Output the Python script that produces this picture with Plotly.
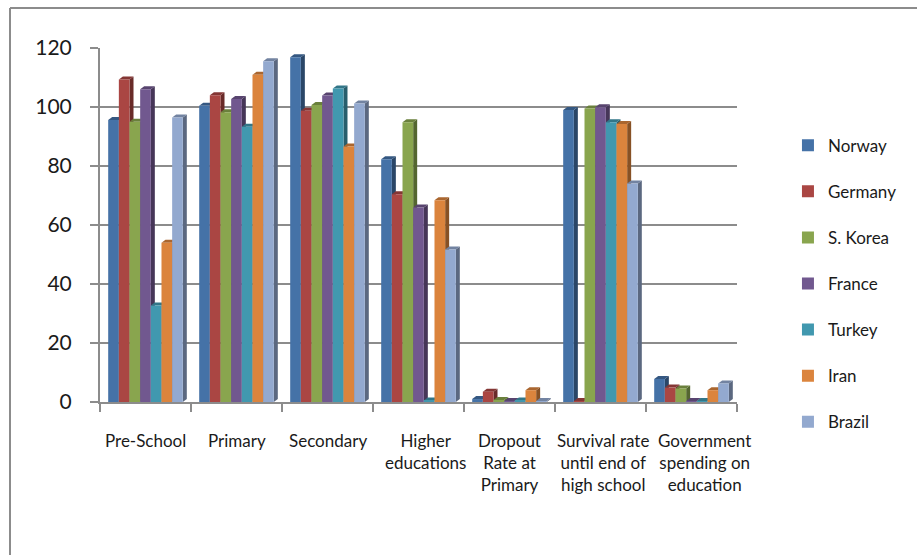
import plotly.graph_objects as go

categories = [
    "Pre-School", "Primary", "Secondary", "Higher<br>educations",
    "Dropout<br>Rate at<br>Primary", "Survival rate<br>until end of<br>high school",
    "Government<br>spending on<br>education",
]

norway = [95.6, 100.4, 116.9, 82.3, 1.0, 99.0, 7.8]
germany = [109.3, 104.0, 98.7, 70.4, 3.5, 0.3, 4.9]
s_korea = [95.0, 98.2, 100.7, 94.8, 0.7, 99.5, 4.6]
france = [106.0, 102.7, 103.9, 65.9, 0.3, 99.9, 0.3]
turkey = [32.7, 93.3, 106.3, 0.5, 0.5, 94.8, 0.3]
iran = [54.0, 110.9, 86.6, 68.4, 4.0, 94.2, 4.0]
brazil = [96.4, 115.5, 101.2, 51.7, 0.3, 74.1, 6.3]

series = [
    ("Norway", norway, "#4572A7"),
    ("Germany", germany, "#AA4643"),
    ("S. Korea", s_korea, "#89A54E"),
    ("France", france, "#71588F"),
    ("Turkey", turkey, "#4198AF"),
    ("Iran", iran, "#DB843D"),
    ("Brazil", brazil, "#93A9CF"),
]

y_ticks = [0, 20, 40, 60, 80, 100, 120]

W, H = 917, 555
L, R, T, B = 100, 180, 48, 153
BARGAP = 0.18
Y_MAX = 120

# horizontal nudges (px) for the category captions under the axis
label_shift = [0, 0, 0, 7, 0, 2, 13]


def shade(hex_color, k):
    r, g, b = (int(hex_color[i:i + 2], 16) for i in (1, 3, 5))
    return "#%02x%02x%02x" % (int(r * k), int(g * k), int(b * k))


fig = go.Figure()
for i, (name, vals, color) in enumerate(series):
    fig.add_trace(go.Bar(
        x=categories, y=vals, name=name,
        marker=dict(color=color, line=dict(width=0)),
        legendgroup=f"g{i}",
    ))

# depth faces (right side and top) for a simple 3-D look, in axis units
plot_w = W - L - R
plot_h = H - T - B
dx = 4 / (plot_w / len(categories))
dy = 3 / (plot_h / Y_MAX)
bar_w = (1 - BARGAP) / len(series)
for j, (name, vals, color) in enumerate(series):
    side = shade(color, 0.62)
    top = shade(color, 0.78)
    for i, v in enumerate(vals):
        x0 = i - (1 - BARGAP) / 2 + j * bar_w
        x1 = x0 + bar_w
        fig.add_shape(
            type="path", xref="x", yref="y", layer="between",
            path=f"M{x1},0 L{x1},{v} L{x1 + dx},{v + dy} L{x1 + dx},{dy} Z",
            fillcolor=side, line=dict(width=0),
        )
        fig.add_shape(
            type="path", xref="x", yref="y", layer="between",
            path=f"M{x0},{v} L{x1},{v} L{x1 + dx},{v + dy} L{x0 + dx},{v + dy} Z",
            fillcolor=top, line=dict(width=0),
        )

# category captions
for cat, shift in zip(categories, label_shift):
    fig.add_annotation(
        x=cat, xref="x", y=-26 / plot_h, yref="paper",
        xanchor="center", yanchor="top", xshift=shift,
        text=cat, showarrow=False, align="center",
        font=dict(size=17, family="Lato, Carlito, sans-serif", color="#1a1a1a"),
    )

fig.update_layout(
    width=W, height=H,
    margin=dict(l=L, r=R, t=T, b=B, pad=0),
    paper_bgcolor="white", plot_bgcolor="white",
    barmode="group", bargap=BARGAP, bargroupgap=0,
    font=dict(family="Lato, Carlito, sans-serif", color="#1a1a1a"),
    legend=dict(
        x=1.08, y=0.775, xanchor="left", yanchor="top",
        font=dict(size=17), tracegroupgap=21,
        itemwidth=30, bgcolor="rgba(0,0,0,0)",
    ),
    showlegend=True,
)

fig.update_xaxes(
    range=[-0.5, len(categories) - 0.5], autorange=False,
    showline=True, linecolor="#8c8c8c", linewidth=2,
    ticks="outside", tickson="boundaries", ticklen=8,
    tickcolor="#8c8c8c", tickwidth=2,
    showticklabels=False, showgrid=False,
)
fig.update_yaxes(
    range=[0, Y_MAX], tickvals=y_ticks,
    showline=True, linecolor="#8c8c8c", linewidth=2,
    ticks="outside", ticklen=8, tickcolor="#8c8c8c", tickwidth=2,
    tickfont=dict(size=21), ticklabelstandoff=14,
    showgrid=True, gridcolor="#8c8c8c", gridwidth=2,
    zeroline=False,
)

# outer frame around the chart
fig.add_shape(type="line", xref="paper", yref="paper",
              x0=(10 - L) / plot_w, x1=(W - L) / plot_w,
              y0=(H - B - 8) / plot_h, y1=(H - B - 8) / plot_h,
              line=dict(color="#8c8c8c", width=2))
fig.add_shape(type="line", xref="paper", yref="paper",
              x0=(10 - L) / plot_w, x1=(10 - L) / plot_w,
              y0=(H - B - 8) / plot_h, y1=-B / plot_h,
              line=dict(color="#8c8c8c", width=2))

fig.write_html("out.html")
